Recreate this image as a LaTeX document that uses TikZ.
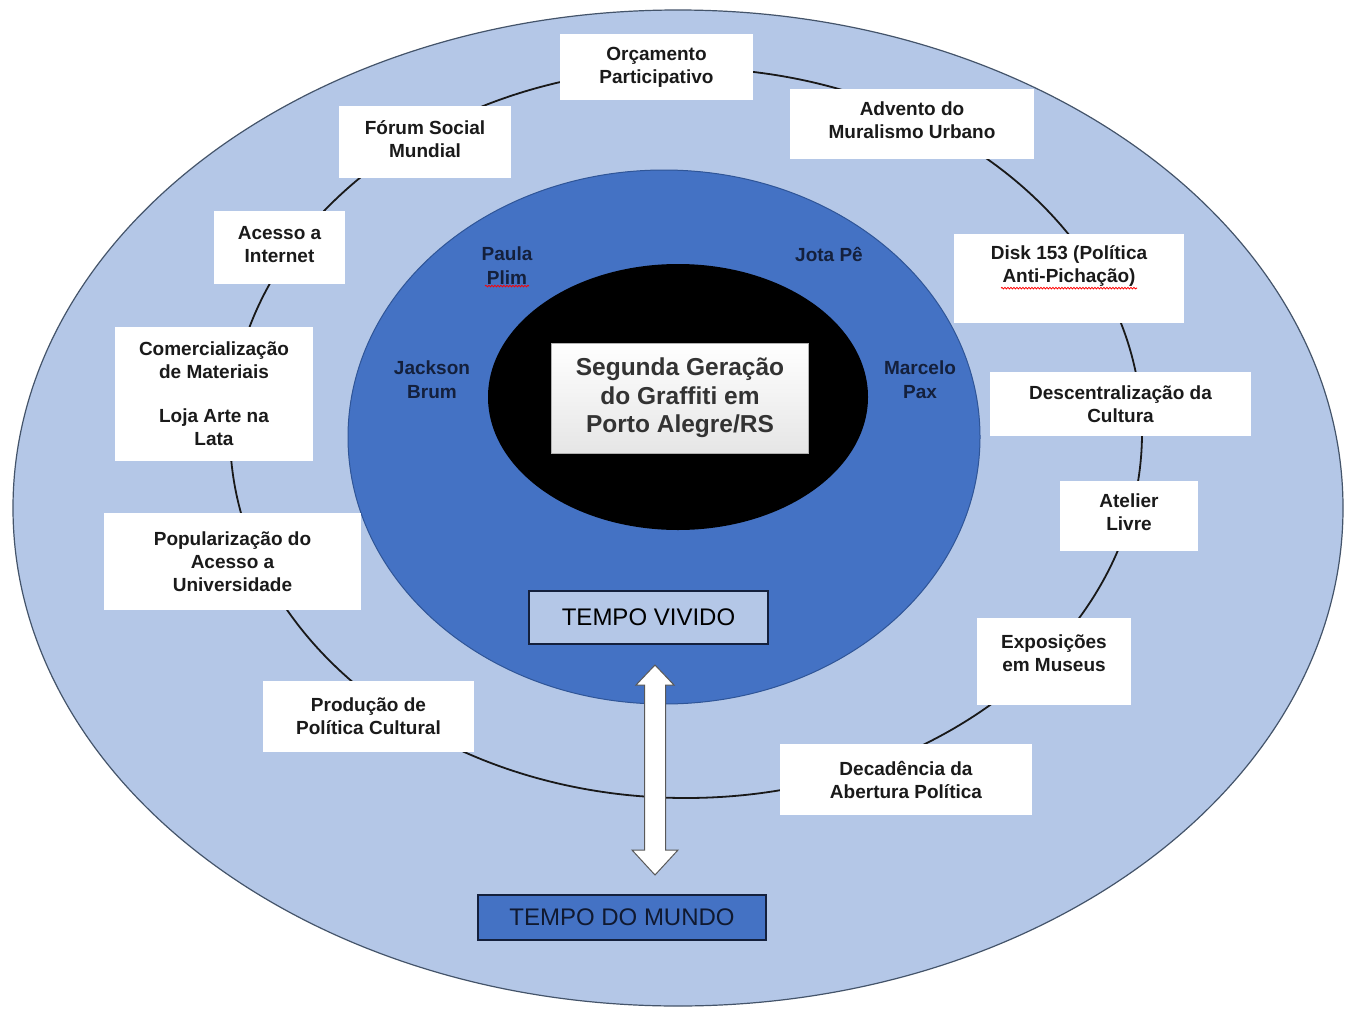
\documentclass[tikz,border=0pt]{standalone}
\usepackage{fontspec}
\setmainfont{Liberation Sans}
\usetikzlibrary{decorations.pathmorphing}
\definecolor{outerfill}{HTML}{B4C7E7}
\definecolor{outerline}{HTML}{44546A}
\definecolor{midblue}{HTML}{4472C4}
\definecolor{midline}{HTML}{2F5597}
\definecolor{navy}{HTML}{14203C}
\definecolor{boxtext}{HTML}{1A1A1A}
\begin{document}
\begin{tikzpicture}[x=1pt,y=-1pt,
  box/.style={fill=white, draw=none, inner sep=0pt, align=center,
    font=\bfseries\fontsize{19}{23}\selectfont, text=boxtext},
  boxlabel/.style={inner sep=0pt, align=center,
    font=\bfseries\fontsize{19}{23}\selectfont, text=boxtext},
  person/.style={inner sep=0pt, align=center,
    font=\bfseries\fontsize{19}{24}\selectfont, text=navy},
  tempo/.style={draw=navy, line width=1.5pt, inner sep=0pt,
    font=\fontsize{24}{28}\selectfont, text=black},
  squig/.style={draw=red, line width=0.8pt, decorate,
    decoration={snake, amplitude=0.8pt, segment length=3pt}}]
\useasboundingbox (0,0) rectangle (1346,1009);
\fill[white] (0,0) rectangle (1346,1009);

% outer ellipse
\draw[fill=outerfill, draw=outerline, line width=1.2pt] (678,508) ellipse [x radius=665pt, y radius=498pt];
% ring
\draw[line width=1.8pt, color=black!90] (686,433) ellipse [x radius=456pt, y radius=365pt];
% middle blue ellipse
\draw[fill=midblue, draw=midline, line width=1pt] (664,437) ellipse [x radius=316pt, y radius=267pt];
% black ellipse
\fill[black] (678,397) ellipse [x radius=190pt, y radius=133pt];

% central box
\node[draw=gray!60, top color=white, bottom color=gray!20, minimum width=257pt, minimum height=110pt,
  inner sep=0pt, align=center, font=\bfseries\fontsize{24.5}{28.5}\selectfont, text=black!80] (center) at (680,398)
  {Segunda Geração\\do Graffiti em\\Porto Alegre/RS};

% people
\node[person] (paula) at (507,266) {Paula\\Plim};
\node[person] (jota) at (829,254) {Jota Pê};
\node[person] (jackson) at (432,380) {Jackson\\Brum};
\node[person] (marcelo) at (920,380) {Marcelo\\Pax};

% boxes around the ring
\node[box, minimum width=193pt, minimum height=66pt] (orc) at (656.5,67) {Orçamento\\Participativo};
\node[box, minimum width=244pt, minimum height=70pt] (adv) at (912,124) {};
\node[boxlabel] (advt) at ([yshift=4pt]adv.center) {Advento do\\Muralismo Urbano};
\node[box, minimum width=172pt, minimum height=72pt] (forum) at (425,142) {};
\node[boxlabel] (forumt) at ([yshift=3pt]forum.center) {Fórum Social\\Mundial};
\node[box, minimum width=131pt, minimum height=73pt] (acesso) at (279.5,247.5) {};
\node[boxlabel] (acessot) at ([yshift=3pt]acesso.center) {Acesso a\\Internet};
\node[box, minimum width=230pt, minimum height=89pt] (disk) at (1069,278.5) {};
\node[boxlabel] (diskt) at ([yshift=12pt]disk.center) {Disk 153 (Política\\Anti-Pichação)};
\node[box, minimum width=198pt, minimum height=134pt] (comerc) at (214,394)
  {Comercialização\\de Materiais\\[21pt]Loja Arte na\\Lata};
\node[box, minimum width=261pt, minimum height=64pt] (desc) at (1120.5,404) {Descentralização da\\Cultura};
\node[box, minimum width=138pt, minimum height=70pt] (atelier) at (1129,516) {};
\node[boxlabel] (ateliert) at ([yshift=3.5pt]atelier.center) {Atelier\\Livre};
\node[box, minimum width=257pt, minimum height=97pt] (popular) at (232.5,561.5)
  {Popularização do\\Acesso a\\Universidade};
\node[box, minimum width=154pt, minimum height=87pt] (expos) at (1054,661.5) {};
\node[boxlabel] (exposit) at ([yshift=8pt]expos.center) {Exposições\\em Museus};
\node[box, minimum width=211pt, minimum height=71pt] (prod) at (368.5,716.5) {Produção de\\Política Cultural};
\node[box, minimum width=252pt, minimum height=71pt] (decad) at (906,779.5) {Decadência da\\Abertura Política};

% spell-check squiggles
\draw[squig] ([xshift=-22pt,yshift=-1pt]paula.south) -- ([xshift=22pt,yshift=-1pt]paula.south);
\draw[squig] ([xshift=-68pt,yshift=-1pt]diskt.south) -- ([xshift=68pt,yshift=-1pt]diskt.south);

% tempo boxes
\node[tempo, fill=outerfill, minimum width=239pt, minimum height=53pt] (vivido) at (648.5,617.5) {TEMPO VIVIDO};
\node[tempo, fill=midblue, minimum width=288pt, minimum height=45pt, text=navy!80!black] (mundo) at (622,917.5) {TEMPO DO MUNDO};

% double block arrow
\coordinate (atop) at (655,665);
\coordinate (abot) at (655,875);
\draw[fill=white, draw=gray!70!black, line width=1pt, line join=miter]
  (atop) -- ([xshift=19pt,yshift=-20pt]atop) -- ([xshift=10.5pt,yshift=-20pt]atop)
  -- ([xshift=10.5pt,yshift=25pt]abot) -- ([xshift=23pt,yshift=25pt]abot)
  -- (abot) -- ([xshift=-23pt,yshift=25pt]abot) -- ([xshift=-10.5pt,yshift=25pt]abot)
  -- ([xshift=-10.5pt,yshift=-20pt]atop) -- ([xshift=-19pt,yshift=-20pt]atop) -- cycle;
\end{tikzpicture}
\end{document}
